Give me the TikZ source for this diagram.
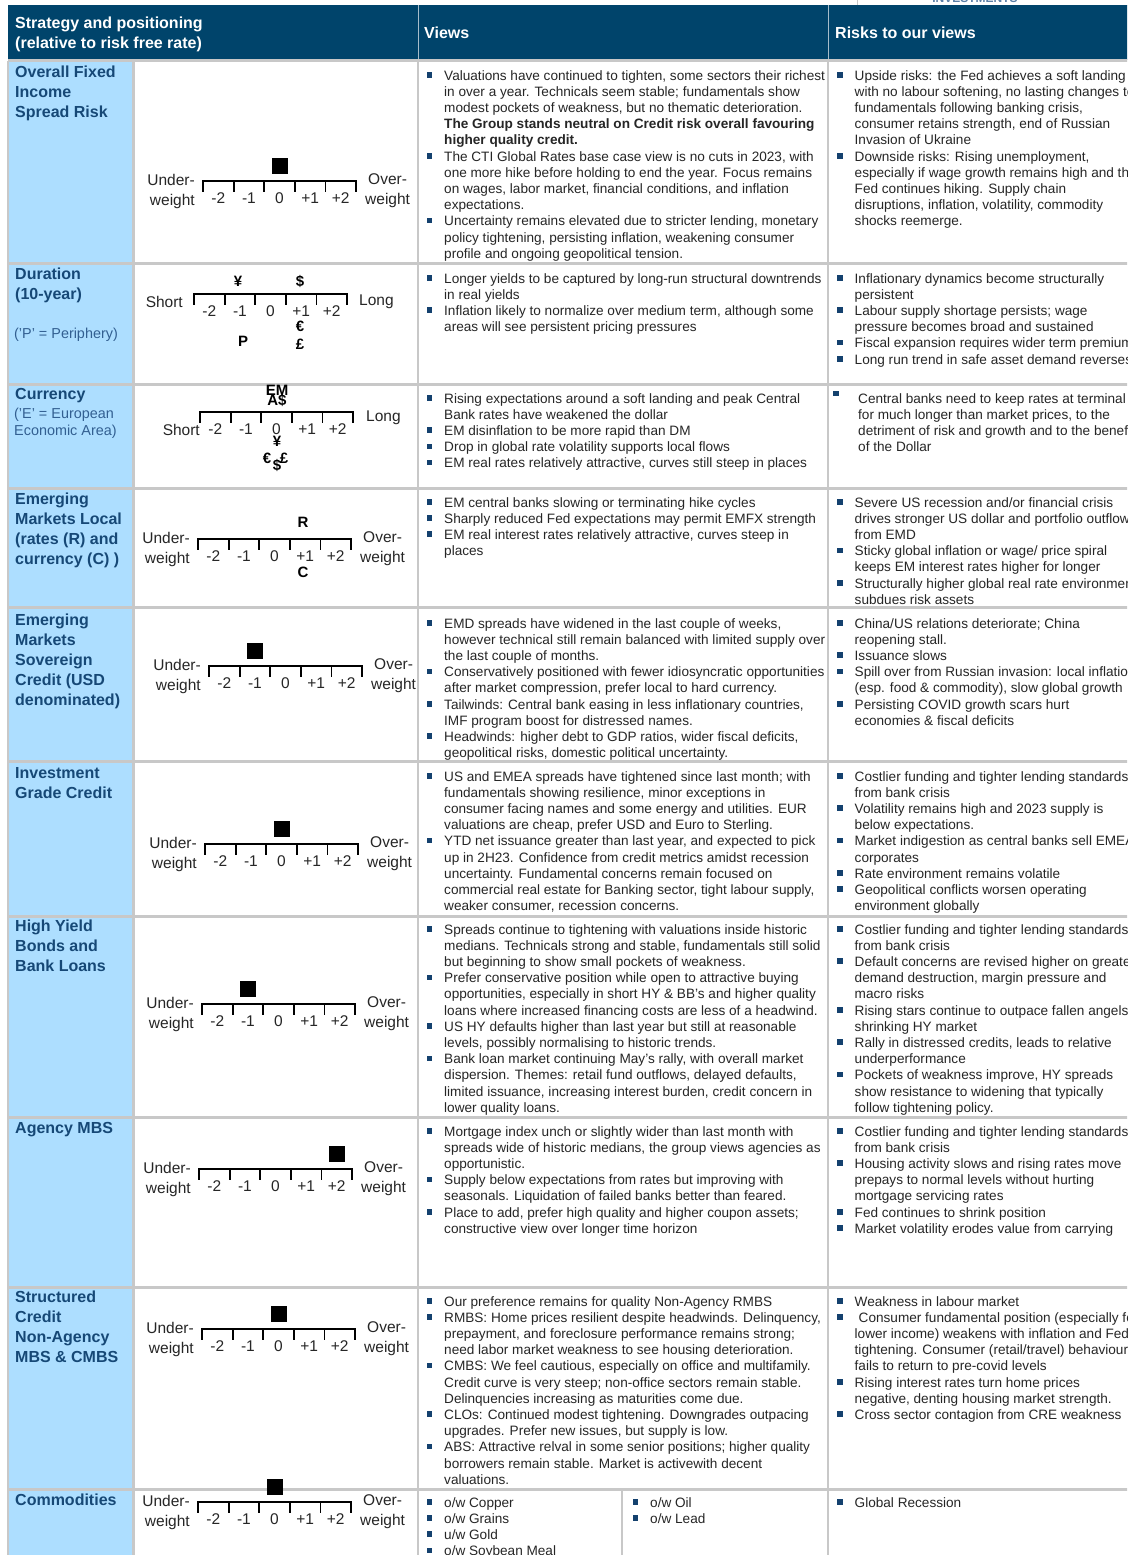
\documentclass[tikz,border=0pt]{standalone}
\usepackage{fontspec}
\setmainfont{Liberation Sans}
\usepackage{tikz}
\usetikzlibrary{calc}
\usetikzlibrary{positioning}

\definecolor{hdrnavy}{RGB}{0,68,107}
\definecolor{sideblue}{RGB}{173,222,255}
\definecolor{labelnavy}{RGB}{22,72,118}
\definecolor{notenavy}{RGB}{50,95,145}
\definecolor{gridgray}{RGB}{200,200,200}
\definecolor{bodygray}{RGB}{38,38,38}
\definecolor{bulletnavy}{RGB}{20,65,110}

\newcommand{\bodyfont}{\fontsize{13.6}{16.2}\selectfont}
\newcommand{\labelfont}{\fontsize{16}{20}\selectfont\bfseries}
\newcommand{\headfont}{\fontsize{16}{20}\selectfont\bfseries}
\newcommand{\notefont}{\fontsize{14.4}{17}\selectfont}
\newcommand{\barfont}{\fontsize{15.5}{20}\selectfont}
\newcommand{\ccyfont}{\fontsize{15}{15}\selectfont\bfseries}

\newcommand{\bul}{\makebox[17.5pt][l]{\textcolor{bulletnavy}{\rule[2.5pt]{5.5pt}{5.5pt}}}}
\newcommand{\ind}{\hspace*{17.5pt}}

% -2 ... +2 bar: name, left x, line y
\newcommand{\ratingbar}[3]{%
  \coordinate (#1_l) at (#2,#3);
  \coordinate (#1_r) at (#2+153,#3);
  \draw[barline] ($(#1_l)+(0,10)$) -- (#1_l) -- (#1_r) -- ++(0,10);
  \foreach \k in {1,...,4}
    \draw[barline] ($(#1_l)+(\k*30.6,0)$) -- ++(0,10);
  \foreach \k/\lab in {0/-2,1/-1,2/0,3/+1,4/+2}
    \node[barnum] (#1_n\k) at ($(#1_l)+(\k*30.6+15.3,17)$) {\lab};
}
\newcommand{\weightlabels}[1]{%
  \node[sidelabel, align=right, anchor=east] (#1_under) at ($(#1_l)+(-8,10)$) {Under-\\weight};
  \node[sidelabel, align=center, anchor=west] (#1_over) at ($(#1_r)+(9,10)$) {Over-\\weight};
}
\newcommand{\ratingmark}[2]{%
  \node[markbox] (#1_mark) at ($(#1_l)+(#2*30.6+15.3,-15.5)$) {};
}

\begin{document}
\begin{tikzpicture}[x=1pt, y=-1pt,
    viewtext/.style={anchor=north west, inner sep=0pt, align=left, text=bodygray, font=\bodyfont},
    rowlabel/.style={anchor=north west, inner sep=0pt, align=left, text=labelnavy, font=\labelfont},
    rownote/.style={anchor=north west, inner sep=0pt, align=left, text=notenavy, font=\notefont},
    headtext/.style={inner sep=0pt, align=left, text=white, font=\headfont},
    barline/.style={line width=1.8pt, line cap=rect},
    barnum/.style={inner sep=0pt, font=\barfont, text=black!85},
    sidelabel/.style={inner sep=0pt, font=\barfont, text=black!85},
    markbox/.style={fill=black, minimum size=16pt, inner sep=0pt},
    ccy/.style={inner sep=0pt, font=\ccyfont},
    gridline/.style={gridgray, line width=3pt},
  ]

\useasboundingbox (0,0) rectangle (1127,1555);
\clip (0,0) rectangle (1127,1555);
\fill[white] (0,0) rectangle (1127,1555);

% top strip
\draw[gridgray, line width=1pt] (857,-20) rectangle (1160,6);
\node[inner sep=0pt, font=\fontsize{12}{12}\selectfont\bfseries, text=notenavy!80] (logo_text) at (975,-1.5) {INVESTMENTS};

% table frame
\fill[hdrnavy] (8,5) rectangle (1140,60);
\foreach \xx in {418,828}
  \draw[white!65!hdrnavy, line width=1pt] (\xx,5) -- (\xx,60);
\fill[sideblue] (9,61) rectangle (133,1560);
\foreach \yy in {61,263,384,488,607,761,916,1117,1287,1489}
  \draw[gridline] (8,\yy) -- (1140,\yy);
\foreach \xx in {8,133.5,418,828}
  \draw[gridgray, line width=2.5pt] (\xx,61) -- (\xx,1560);
\draw[gridgray, line width=2pt] (622,1489) -- (622,1560);

% header
\node[headtext, anchor=north west] (head_strategy) at (15,17) {Strategy and positioning\\(relative to risk free rate)};
\node[headtext, anchor=west] (head_views) at (424,33) {Views};
\node[headtext, anchor=west] (head_risks) at (835,33) {Risks to our views};

% row labels
\node[rowlabel] (fi_label) at (15,66) {Overall Fixed\\Income\\Spread Risk};
\node[rowlabel] (dur_label) at (15,268) {Duration\\(10-year)};
\node[rownote] (dur_note) at (14,328) {('P' = Periphery)};
\node[rowlabel] (fx_label) at (15,388) {Currency};
\node[rownote] (fx_note) at (14,408) {('E' = European\\Economic Area)};
\node[rowlabel] (eml_label) at (15,493) {Emerging\\Markets Local\\(rates (R) and\\currency (C) )};
\node[rowlabel] (ems_label) at (15,614) {Emerging\\Markets\\Sovereign\\Credit (USD\\denominated)};
\node[rowlabel] (ig_label) at (15,767) {Investment\\Grade Credit};
\node[rowlabel] (hy_label) at (15,920) {High Yield\\Bonds and\\Bank Loans};
\node[rowlabel] (mbs_label) at (15,1122) {Agency MBS};
\node[rowlabel] (sc_label) at (15,1291) {Structured\\Credit\\Non-Agency\\MBS \& CMBS};
\node[rowlabel] (com_label) at (15,1494) {Commodities};

% positioning bars
\ratingbar{fi}{203}{181} \weightlabels{fi} \ratingmark{fi}{2}

\ratingbar{dur}{194}{294}
\node[sidelabel, anchor=east] (dur_short) at ($(dur_l)+(-11,8)$) {Short};
\node[sidelabel, anchor=west] (dur_long) at ($(dur_r)+(12,8)$) {Long};
\node[ccy] (dur_yen) at (238,281) {¥};
\node[ccy] (dur_usd) at (300,281) {\$};
\node[ccy] (dur_eur) at (300,326) {€};
\node[ccy] (dur_p) at (243,341) {P};
\node[ccy] (dur_gbp) at (300,344) {£};

\ratingbar{fx}{200}{412}
\node[sidelabel, anchor=east] (fx_short) at ($(fx_l)+(0,18)$) {Short};
\node[sidelabel, anchor=west] (fx_long) at ($(fx_r)+(13,6)$) {Long};
\node[ccy] (fx_em) at (277,390) {EM};
\node[ccy] (fx_aud) at (277,400) {A\$};
\node[ccy] (fx_yen) at (277,441) {¥};
\node[ccy] (fx_eur) at (267,458) {€};
\node[ccy] (fx_usd) at (277,465) {\$};
\node[ccy] (fx_gbp) at (284,458) {£};

\ratingbar{eml}{198}{539} \weightlabels{eml}
\node[ccy] (eml_rates) at (303,522) {R};
\node[ccy] (eml_ccy) at (303,572) {C};

\ratingbar{ems}{209}{666} \weightlabels{ems} \ratingmark{ems}{1}
\ratingbar{ig}{205}{844} \weightlabels{ig} \ratingmark{ig}{2}
\ratingbar{hy}{202}{1004} \weightlabels{hy} \ratingmark{hy}{1}
\ratingbar{mbs}{199}{1169} \weightlabels{mbs} \ratingmark{mbs}{4}
\ratingbar{sc}{202}{1329} \weightlabels{sc} \ratingmark{sc}{2}
\ratingbar{com}{198}{1502} \weightlabels{com} \ratingmark{com}{2}

% views
\node[viewtext] (fi_views) at (426.5,70) {%
\bul Valuations have continued to tighten, some sectors their richest\\
\ind in over a year. Technicals seem stable; fundamentals show\\
\ind modest pockets of weakness, but no thematic deterioration.\\
\ind \textbf{The Group stands neutral on Credit risk overall favouring}\\
\ind \textbf{higher quality credit.}\\
\bul The CTI Global Rates base case view is no cuts in 2023, with\\
\ind one more hike before holding to end the year. Focus remains\\
\ind on wages, labor market, financial conditions, and inflation\\
\ind expectations.\\
\bul Uncertainty remains elevated due to stricter lending, monetary\\
\ind policy tightening, persisting inflation, weakening consumer\\
\ind profile and ongoing geopolitical tension.};

\node[viewtext] (dur_views) at (426.5,273) {%
\bul Longer yields to be captured by long-run structural downtrends\\
\ind in real yields\\
\bul Inflation likely to normalize over medium term, although some\\
\ind areas will see persistent pricing pressures};

\node[viewtext] (fx_views) at (426.5,393) {%
\bul Rising expectations around a soft landing and peak Central\\
\ind Bank rates have weakened the dollar\\
\bul EM disinflation to be more rapid than DM\\
\bul Drop in global rate volatility supports local flows\\
\bul EM real rates relatively attractive, curves still steep in places};

\node[viewtext] (eml_views) at (426.5,497) {%
\bul EM central banks slowing or terminating hike cycles\\
\bul Sharply reduced Fed expectations may permit EMFX strength\\
\bul EM real interest rates relatively attractive, curves steep in\\
\ind places};

\node[viewtext] (ems_views) at (426.5,618) {%
\bul EMD spreads have widened in the last couple of weeks,\\
\ind however technical still remain balanced with limited supply over\\
\ind the last couple of months.\\
\bul Conservatively positioned with fewer idiosyncratic opportunities\\
\ind after market compression, prefer local to hard currency.\\
\bul Tailwinds: Central bank easing in less inflationary countries,\\
\ind IMF program boost for distressed names.\\
\bul Headwinds: higher debt to GDP ratios, wider fiscal deficits,\\
\ind geopolitical risks, domestic political uncertainty.};

\node[viewtext] (ig_views) at (426.5,771) {%
\bul US and EMEA spreads have tightened since last month; with\\
\ind fundamentals showing resilience, minor exceptions in\\
\ind consumer facing names and some energy and utilities. EUR\\
\ind valuations are cheap, prefer USD and Euro to Sterling.\\
\bul YTD net issuance greater than last year, and expected to pick\\
\ind up in 2H23. Confidence from credit metrics amidst recession\\
\ind uncertainty. Fundamental concerns remain focused on\\
\ind commercial real estate for Banking sector, tight labour supply,\\
\ind weaker consumer, recession concerns.};

\node[viewtext] (hy_views) at (426.5,924) {%
\bul Spreads continue to tightening with valuations inside historic\\
\ind medians. Technicals strong and stable, fundamentals still solid\\
\ind but beginning to show small pockets of weakness.\\
\bul Prefer conservative position while open to attractive buying\\
\ind opportunities, especially in short HY \& BB's and higher quality\\
\ind loans where increased financing costs are less of a headwind.\\
\bul US HY defaults higher than last year but still at reasonable\\
\ind levels, possibly normalising to historic trends.\\
\bul Bank loan market continuing May's rally, with overall market\\
\ind dispersion. Themes: retail fund outflows, delayed defaults,\\
\ind limited issuance, increasing interest burden, credit concern in\\
\ind lower quality loans.};

\node[viewtext] (mbs_views) at (426.5,1126) {%
\bul Mortgage index unch or slightly wider than last month with\\
\ind spreads wide of historic medians, the group views agencies as\\
\ind opportunistic.\\
\bul Supply below expectations from rates but improving with\\
\ind seasonals. Liquidation of failed banks better than feared.\\
\bul Place to add, prefer high quality and higher coupon assets;\\
\ind constructive view over longer time horizon};

\node[viewtext] (sc_views) at (426.5,1296) {%
\bul Our preference remains for quality Non-Agency RMBS\\
\bul RMBS: Home prices resilient despite headwinds. Delinquency,\\
\ind prepayment, and foreclosure performance remains strong;\\
\ind need labor market weakness to see housing deterioration.\\
\bul CMBS: We feel cautious, especially on office and multifamily.\\
\ind Credit curve is very steep; non-office sectors remain stable.\\
\ind Delinquencies increasing as maturities come due.\\
\bul CLOs: Continued modest tightening. Downgrades outpacing\\
\ind upgrades. Prefer new issues, but supply is low.\\
\bul ABS: Attractive relval in some senior positions; higher quality\\
\ind borrowers remain stable. Market is activewith decent\\
\ind valuations.};

\node[viewtext] (com_views_a) at (426.5,1497) {%
\bul o/w Copper\\
\bul o/w Grains\\
\bul u/w Gold\\
\bul o/w Soybean Meal};
\node[viewtext] (com_views_b) at (632.5,1497) {%
\bul o/w Oil\\
\bul o/w Lead};

% risks
\node[viewtext] (fi_risks) at (837,70) {%
\bul Upside risks: the Fed achieves a soft landing\\
\ind with no labour softening, no lasting changes to\\
\ind fundamentals following banking crisis,\\
\ind consumer retains strength, end of Russian\\
\ind Invasion of Ukraine\\
\bul Downside risks: Rising unemployment,\\
\ind especially if wage growth remains high and the\\
\ind Fed continues hiking. Supply chain\\
\ind disruptions, inflation, volatility, commodity\\
\ind shocks reemerge.};

\node[viewtext] (dur_risks) at (837,273) {%
\bul Inflationary dynamics become structurally\\
\ind persistent\\
\bul Labour supply shortage persists; wage\\
\ind pressure becomes broad and sustained\\
\bul Fiscal expansion requires wider term premium\\
\bul Long run trend in safe asset demand reverses};

\fill[bulletnavy] (833,390.5) rectangle (838.5,396);
\node[viewtext] (fx_risks) at (858,393) {%
Central banks need to keep rates at terminal\\
for much longer than market prices, to the\\
detriment of risk and growth and to the benefit\\
of the Dollar};

\node[viewtext] (eml_risks) at (837,497) {%
\bul Severe US recession and/or financial crisis\\
\ind drives stronger US dollar and portfolio outflows\\
\ind from EMD\\
\bul Sticky global inflation or wage/ price spiral\\
\ind keeps EM interest rates higher for longer\\
\bul Structurally higher global real rate environment\\
\ind subdues risk assets};

\node[viewtext] (ems_risks) at (837,618) {%
\bul China/US relations deteriorate; China\\
\ind reopening stall.\\
\bul Issuance slows\\
\bul Spill over from Russian invasion: local inflation\\
\ind (esp. food \& commodity), slow global growth\\
\bul Persisting COVID growth scars hurt\\
\ind economies \& fiscal deficits};

\node[viewtext] (ig_risks) at (837,771) {%
\bul Costlier funding and tighter lending standards\\
\ind from bank crisis\\
\bul Volatility remains high and 2023 supply is\\
\ind below expectations.\\
\bul Market indigestion as central banks sell EMEA\\
\ind corporates\\
\bul Rate environment remains volatile\\
\bul Geopolitical conflicts worsen operating\\
\ind environment globally};

\node[viewtext] (hy_risks) at (837,924) {%
\bul Costlier funding and tighter lending standards\\
\ind from bank crisis\\
\bul Default concerns are revised higher on greater\\
\ind demand destruction, margin pressure and\\
\ind macro risks\\
\bul Rising stars continue to outpace fallen angels,\\
\ind shrinking HY market\\
\bul Rally in distressed credits, leads to relative\\
\ind underperformance\\
\bul Pockets of weakness improve, HY spreads\\
\ind show resistance to widening that typically\\
\ind follow tightening policy.};

\node[viewtext] (mbs_risks) at (837,1126) {%
\bul Costlier funding and tighter lending standards\\
\ind from bank crisis\\
\bul Housing activity slows and rising rates move\\
\ind prepays to normal levels without hurting\\
\ind mortgage servicing rates\\
\bul Fed continues to shrink position\\
\bul Market volatility erodes value from carrying};

\node[viewtext] (sc_risks) at (837,1296) {%
\bul Weakness in labour market\\
\bul\hspace*{4pt}Consumer fundamental position (especially for\\
\ind lower income) weakens with inflation and Fed\\
\ind tightening. Consumer (retail/travel) behaviour\\
\ind fails to return to pre-covid levels\\
\bul Rising interest rates turn home prices\\
\ind negative, denting housing market strength.\\
\bul Cross sector contagion from CRE weakness};

\node[viewtext] (com_risks) at (837,1497) {%
\bul Global Recession};

\end{tikzpicture}
\end{document}
